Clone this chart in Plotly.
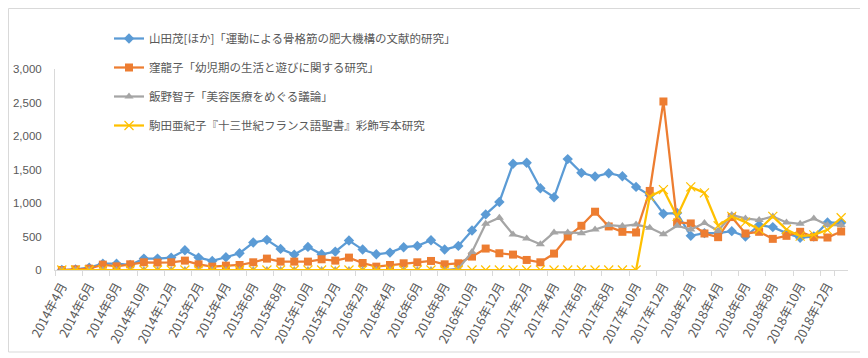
import plotly.graph_objects as go

months = [f"{y}年{m}月" for y, m in
          [(2014, m) for m in range(4, 13)] + [(2015, m) for m in range(1, 13)] +
          [(2016, m) for m in range(1, 13)] + [(2017, m) for m in range(1, 13)] +
          [(2018, m) for m in range(1, 13)] + [(2019, 1)]]

names = [
    "山田茂[ほか]「運動による骨格筋の肥大機構の文献的研究」",
    "窪龍子「幼児期の生活と遊びに関する研究」",
    "飯野智子「美容医療をめぐる議論」",
    "駒田亜紀子『十三世紀フランス語聖書』彩飾写本研究",
]

yamada = [0, 10, 35, 95, 95, 75, 170, 170, 185, 295, 185, 135, 190, 250, 410, 450,
          315, 230, 345, 235, 275, 440, 305, 235, 260, 340, 360, 445, 305, 360, 590,
          830, 1015, 1585, 1600, 1220, 1085, 1655, 1450, 1395, 1445, 1400, 1240, 1115,
          840, 850, 510, 550, 550, 580, 500, 670, 640, 550, 480, 500, 710, 705]
kubo = [0, 10, 20, 80, 55, 85, 115, 110, 115, 140, 85, 50, 65, 75, 115, 170, 125,
        125, 125, 160, 140, 185, 105, 50, 75, 100, 115, 135, 85, 100, 200, 320, 250,
        230, 150, 115, 245, 500, 660, 870, 650, 570, 560, 1180, 2515, 710, 695, 545,
        490, 790, 545, 570, 465, 510, 570, 490, 485, 575]
iino = [0] * 29 + [20, 270, 690, 780, 530, 470, 385, 560, 560, 550, 605, 670, 655,
                   680, 630, 535, 660, 605, 700, 585, 820, 770, 745, 800, 710, 690,
                   770, 670, 670]
komada = [0] * 43 + [1095, 1200, 800, 1240, 1150, 660, 800, 715, 605, 800, 605, 505,
                     525, 600, 780]

series = [yamada, kubo, iino, komada]
colors = ["#5B9BD5", "#ED7D31", "#A5A5A5", "#FFC000"]
symbols = ["diamond", "square", "triangle-up", "x-thin-open"]
msizes = [8, 8, 8, 9]

fig = go.Figure()
for i, (nm, vals, c, s, ms) in enumerate(zip(names, series, colors, symbols, msizes)):
    marker = dict(symbol=s, size=ms, color=c)
    if s == "x-thin-open":
        marker["line"] = dict(color=c, width=1.2)
    fig.add_trace(go.Scatter(
        x=months, y=vals, name=nm, mode="lines+markers",
        line=dict(color=c, width=2.25), marker=marker,
        legendgroup=str(i),
    ))

# page has an 8px body margin: figure is drawn 8px right/down
OFF = 8
W, H = 868 - OFF, 358 - OFF
L, T = 55 - OFF, 69 - OFF
R = 868 - 848
B = 358 - 270
pw, ph = W - L - R, H - T - B

def px_x(x):
    return (x - OFF - L) / pw

def px_y(y):
    return (H - B - (y - OFF)) / ph

fig.update_layout(
    width=W, height=H,
    margin=dict(l=L, r=R, t=T, b=B, autoexpand=False),
    paper_bgcolor="white", plot_bgcolor="white",
    font=dict(family="Noto Sans CJK JP", color="#595959"),
    showlegend=True,
    legend=dict(
        x=px_x(109), y=px_y(24), xanchor="left", yanchor="top",
        bgcolor="rgba(0,0,0,0)", font=dict(size=11.5, color="#595959"),
        tracegroupgap=10,
    ),
    xaxis=dict(
        type="category", categoryorder="array", categoryarray=months,
        range=[-0.5, len(months) - 0.5],
        tickmode="array", tickvals=months[::2], ticktext=months[::2],
        tickangle=-62, tickson="boundaries",
        ticks="outside", ticklen=5, tickcolor="#d9d9d9",
        ticklabelstandoff=3,
        showline=True, linecolor="#d9d9d9", linewidth=1,
        showgrid=False, zeroline=False,
        tickfont=dict(size=12.5, color="#595959", family="Noto Sans CJK JP"),
    ),
    yaxis=dict(
        range=[0, 3000], dtick=500, tick0=0, tickformat=",",
        showgrid=False, zeroline=False,
        showline=True, linecolor="#d9d9d9", linewidth=1,
        ticks="", ticklabelstandoff=10,
        tickfont=dict(size=11.5, color="#595959", family="Liberation Sans"),
    ),
    shapes=[dict(type="rect", xref="paper", yref="paper",
                 x0=px_x(8.5), x1=px_x(863), y0=px_y(352), y1=px_y(8.5),
                 line=dict(color="#d9d9d9", width=1), fillcolor="rgba(0,0,0,0)",
                 layer="below")],
)

fig.write_html("out.html")
